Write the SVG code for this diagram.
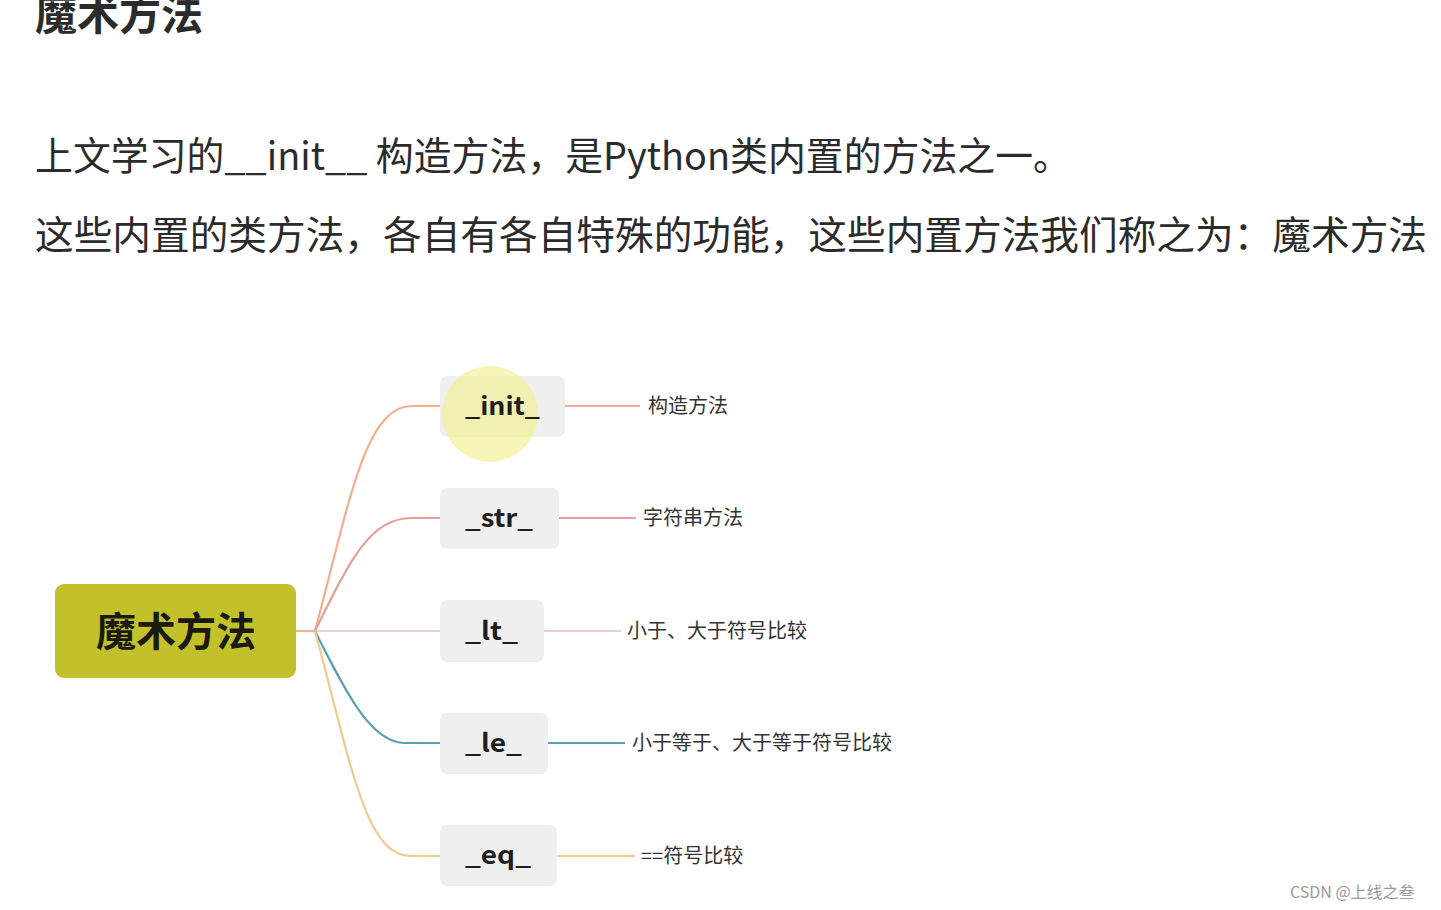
<svg xmlns="http://www.w3.org/2000/svg" width="1441" height="910" viewBox="0 0 1441 910">
<style>
.t{font-family:"Noto Sans CJK SC","Noto Sans",sans-serif;fill:#2b2b2b}
.body{font-size:38.5px}
.child rect{fill:#efefef}
.ctext{font-family:"Noto Sans CJK SC","Noto Sans",sans-serif;font-size:25px;font-weight:600;fill:#1e1e1e}
.lbl{font-family:"Noto Sans CJK SC","Noto Sans",sans-serif;font-size:20px;fill:#333}
#connectors path{fill:none;stroke-width:2.2}
</style>
<rect width="1441" height="910" fill="#ffffff"/>
<text class="t" x="35" y="30" font-size="42" font-weight="700">魔术方法</text>
<text class="t body" x="35" y="170" textLength="1036" lengthAdjust="spacingAndGlyphs">上文学习的__init__ 构造方法，是Python类内置的方法之一。</text>
<text class="t body" x="35" y="249" textLength="1392" lengthAdjust="spacingAndGlyphs">这些内置的类方法，各自有各自特殊的功能，这些内置方法我们称之为：魔术方法</text>

<g id="connectors">
<path d="M296,631 L315,631" stroke="#f0b48a"/>
<path d="M315,631 C350,500 365,406 412,406 L440,406" stroke="#f0b090"/>
<path d="M315,631 C350,560 370,518 412,518 L440,518" stroke="#e4a094"/>
<path d="M315,631 L440,631" stroke="#e6d2d6"/>
<path d="M315,631 C345,690 370,743 405,743 L440,743" stroke="#5a9fb0"/>
<path d="M315,631 C350,760 365,856 410,856 L440,856" stroke="#f2c98e"/>
<path d="M565,406 L640,406" stroke="#f0a894"/>
<path d="M559,518 L636,518" stroke="#e8a0a4"/>
<path d="M544,631 L621,631" stroke="#e6d0d4"/>
<path d="M548,743 L625,743" stroke="#5a9fb0"/>
<path d="M557,856 L635,856" stroke="#f2c98e"/>
</g>

<g id="root">
<rect x="55" y="584" width="241" height="94" rx="9" fill="#c2c12c"/>
<text x="176" y="646" text-anchor="middle" font-family="'Noto Sans CJK SC','Noto Sans',sans-serif" font-size="40" font-weight="700" fill="#1a1a10">魔术方法</text>
</g>

<g id="n-init" class="child">
<rect x="440" y="376" width="125" height="61" rx="7"/>
<circle cx="490" cy="414" r="48" fill="#f4ef8a" opacity="0.6"/>
<text class="ctext" x="465" y="415" textLength="75" lengthAdjust="spacingAndGlyphs">_init_</text>
</g>
<g id="n-str" class="child">
<rect x="440" y="488" width="119" height="61" rx="7"/>
<text class="ctext" x="465" y="527" textLength="68" lengthAdjust="spacingAndGlyphs">_str_</text>
</g>
<g id="n-lt" class="child">
<rect x="440" y="600" width="104" height="62" rx="7"/>
<text class="ctext" x="465" y="640" textLength="53" lengthAdjust="spacingAndGlyphs">_lt_</text>
</g>
<g id="n-le" class="child">
<rect x="440" y="713" width="108" height="61" rx="7"/>
<text class="ctext" x="465" y="752" textLength="57" lengthAdjust="spacingAndGlyphs">_le_</text>
</g>
<g id="n-eq" class="child">
<rect x="440" y="825" width="117" height="61" rx="7"/>
<text class="ctext" x="465" y="864" textLength="66" lengthAdjust="spacingAndGlyphs">_eq_</text>
</g>

<g id="l-init"><text class="lbl" x="648" y="413">构造方法</text></g>
<g id="l-str"><text class="lbl" x="643" y="525">字符串方法</text></g>
<g id="l-lt"><text class="lbl" x="627" y="638">小于、大于符号比较</text></g>
<g id="l-le"><text class="lbl" x="632" y="750">小于等于、大于等于符号比较</text></g>
<g id="l-eq"><text class="lbl" x="641" y="863">==符号比较</text></g>

<text x="1290" y="898" font-family="'Noto Sans CJK SC','Noto Sans',sans-serif" font-size="16" fill="#9a9a9a">CSDN @上线之叁</text>
</svg>
